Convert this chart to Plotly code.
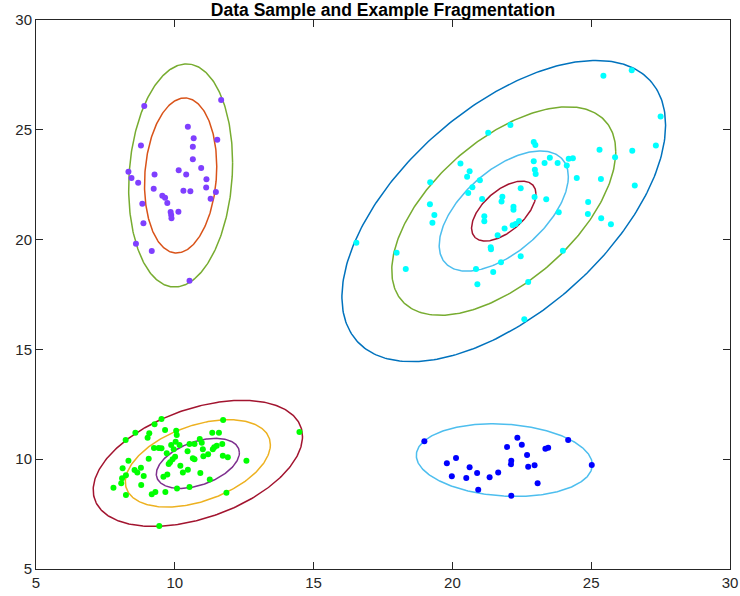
import numpy as np
import plotly.graph_objects as go

# ---- data points per cluster ----
green_x = [9.52, 9.27, 8.58, 9.08, 8.23, 9.02, 9.65, 10.05, 10.07, 11.74, 11.35, 11.59, 14.49,
           10.90, 10.97, 10.03, 9.87, 10.17, 10.53, 10.71, 9.25, 9.42, 9.52, 9.96, 9.71, 10.46,
           11.01, 11.42, 11.51, 11.71, 11.37, 11.20, 11.03, 11.73, 11.91, 12.58, 10.65, 10.71,
           10.01, 9.92, 9.83, 9.78, 9.06, 8.33, 8.12, 8.55, 8.65, 8.78, 8.24, 8.10, 8.07, 8.88,
           7.79, 8.79, 8.24, 9.17, 9.30, 9.66, 10.20, 10.47, 10.29, 9.73, 9.59, 10.92, 11.26,
           10.08, 10.53, 11.86, 9.44]
green_y = [11.83, 11.59, 11.21, 11.18, 10.87, 10.98, 11.33, 11.30, 11.10, 11.79, 11.21, 11.21, 11.24,
           10.92, 10.75, 10.80, 10.65, 10.65, 10.69, 10.69, 10.51, 10.51, 10.50, 10.45, 10.27, 10.36,
           10.45, 10.54, 10.61, 10.69, 10.45, 10.22, 10.13, 10.16, 10.09, 9.93, 10.04, 10.00,
           10.11, 10.00, 9.86, 9.78, 10.02, 9.93, 9.59, 9.51, 9.39, 9.61, 9.27, 9.13, 8.90, 9.23,
           8.70, 8.83, 8.37, 8.40, 8.51, 8.51, 9.70, 9.52, 9.40, 9.30, 9.20, 9.37, 9.08,
           8.67, 8.73, 8.47, 6.96]

purple_x = [8.90, 11.67, 10.47, 10.68, 11.53, 8.78, 10.65, 10.65, 10.95, 10.14, 10.41, 9.27, 8.33,
            8.44, 8.68, 11.14, 11.13, 9.24, 10.31, 10.56, 11.48, 11.29, 9.55, 9.65, 9.73, 8.83,
            10.13, 9.85, 9.87, 9.88, 8.87, 8.60, 9.17, 10.53]
purple_y = [26.08, 26.36, 25.14, 24.61, 24.55, 24.29, 24.23, 23.66, 23.26, 23.16, 22.96, 22.96, 23.09,
            22.81, 22.59, 22.75, 22.37, 22.32, 22.23, 22.20, 22.17, 21.86, 22.00, 21.91, 21.67, 21.63,
            21.27, 21.26, 21.12, 20.97, 20.74, 19.81, 19.48, 18.13]

cyan_x = [25.44, 26.46, 27.50, 27.33, 26.48, 25.30, 25.86, 26.57, 25.35, 25.36, 25.71, 24.89, 24.88,
          24.48, 24.19, 24.34, 24.12, 23.79, 23.51, 23.32, 22.93, 22.99, 22.93, 22.97, 23.00, 22.09,
          21.29, 20.29, 20.62, 20.53, 20.99, 19.20, 20.72, 20.57, 19.19, 19.35, 19.28, 22.46, 21.80,
          21.77, 21.07, 22.96, 23.38, 22.20, 22.20, 23.83, 21.15, 21.15, 22.40, 22.28, 22.17, 21.88,
          21.63, 16.54, 17.99, 18.32, 21.38, 21.39, 22.46, 21.75, 20.85, 21.47, 23.98, 20.90, 22.73,
          22.59]
cyan_y = [27.46, 27.71, 25.61, 24.28, 24.05, 24.09, 23.75, 22.46, 22.76, 20.97, 20.70, 21.71, 21.17,
          22.81, 23.68, 23.70, 23.38, 23.49, 23.73, 23.49, 24.44, 24.31, 23.57, 23.18, 22.99, 25.22,
          24.87, 23.47, 23.11, 22.86, 22.70, 22.61, 22.38, 22.12, 21.61, 21.12, 20.77, 22.34, 21.95,
          21.74, 21.85, 21.94, 21.84, 21.50, 21.36, 21.24, 21.06, 20.83, 20.85, 20.71, 20.65, 20.51,
          20.20, 19.86, 19.40, 18.66, 19.65, 19.56, 19.24, 18.97, 18.66, 18.52, 19.49, 17.97, 18.07,
          16.37]

blue_x = [18.99, 19.80, 20.13, 19.98, 20.62, 20.50, 20.89, 20.93, 21.34, 21.65, 21.97, 22.34, 22.50,
          22.12, 22.11, 22.69, 22.73, 22.96, 23.07, 22.12, 23.35, 23.45, 24.17, 25.02]
blue_y = [10.82, 9.81, 10.05, 9.22, 9.63, 9.14, 9.37, 8.61, 9.18, 9.39, 10.56, 10.98, 10.66,
          9.93, 9.77, 10.19, 9.66, 9.72, 8.90, 8.34, 10.48, 10.52, 10.87, 9.74]

# ---- ellipse parameters: center, half-width, half-height, correlation, levels ----
ell_centers = [(10.83, 9.81), (10.21, 22.92), (21.85, 21.30), (21.87, 9.96)]
ell_sx = [3.77, 1.872, 5.83, 3.17]
ell_sy = [2.87, 5.08, 6.86, 1.654]
ell_rho = [0.425, 0.115, 0.57, -0.13]
ell_levels = [[1.0, 0.693, 0.397], [1.0, 0.695], [1.0, 0.692, 0.399, 0.199], [1.0]]
ell_colors = [["#A2142F", "#EDB120", "#7E2F8E"], ["#77AC30", "#D95319"],
              ["#0072BD", "#77AC30", "#4DBEEE", "#A2142F"], ["#4DBEEE"]]

fig = go.Figure()

t = np.linspace(0, 2 * np.pi, 300)
for (cx, cy), sx, sy, rho, levels, cols in zip(ell_centers, ell_sx, ell_sy, ell_rho, ell_levels, ell_colors):
    for k, col in zip(levels, cols):
        ex = cx + k * sx * np.cos(t)
        ey = cy + k * sy * (rho * np.cos(t) + np.sqrt(1 - rho ** 2) * np.sin(t))
        fig.add_trace(go.Scatter(x=ex, y=ey, mode="lines", line=dict(color=col, width=1.5),
                                 hoverinfo="skip", showlegend=False))

for xs, ys, col in [(green_x, green_y, "#00FF00"), (purple_x, purple_y, "#7F3FFF"),
                    (cyan_x, cyan_y, "#00FFFF"), (blue_x, blue_y, "#0000FF")]:
    fig.add_trace(go.Scatter(x=xs, y=ys, mode="markers",
                             marker=dict(color=col, size=6, line=dict(width=0)),
                             showlegend=False))

axis_common = dict(showgrid=False, zeroline=False, showline=True, linecolor="#262626", linewidth=1,
                   mirror="ticks", ticks="inside", ticklen=7, tickcolor="#262626", tickwidth=1,
                   tickfont=dict(family="Liberation Sans, Arial, sans-serif", size=15, color="#262626"),
                   dtick=5, automargin=False)

fig.update_layout(
    width=740, height=596, autosize=False,
    margin=dict(l=36, r=10, t=20, b=27, pad=0, autoexpand=False),
    paper_bgcolor="white", plot_bgcolor="white",
    title=dict(text="<b>Data Sample and Example Fragmentation</b>", x=0.5, xanchor="center",
               xref="paper", y=0.983, yanchor="middle", automargin=False,
               font=dict(family="Liberation Sans, Arial, sans-serif", size=17.5, color="#000000")),
    xaxis=dict(range=[5, 30], tick0=5, **axis_common),
    yaxis=dict(range=[5, 30], tick0=5, **axis_common),
)

fig.write_html("out.html")
